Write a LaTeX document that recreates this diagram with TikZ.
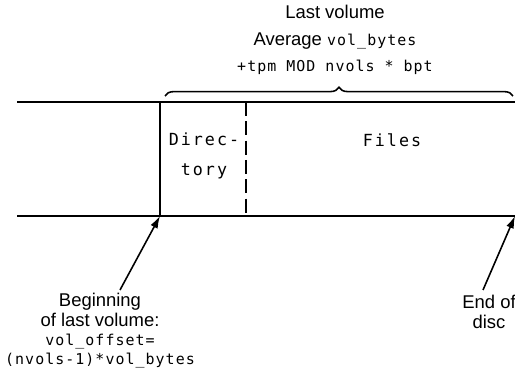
\documentclass[tikz,border=0pt]{standalone}
\usepackage{fontspec}
\setmainfont{Liberation Sans}
\newfontfamily\codefont[LetterSpace=7]{DejaVu Sans Mono}
\usetikzlibrary{arrows.meta,decorations.pathreplacing,positioning}
\newcommand{\code}[1]{{\fontsize{8.5}{11}\codefont #1}}
\newcommand{\boxcode}[1]{{\fontsize{9.5}{11}\codefont\addfontfeature{LetterSpace=12}#1}}

\begin{document}
\begin{tikzpicture}[x=0.02cm,y=-0.02cm,font=\fontsize{10.5}{11}\selectfont,
  rail/.style={line width=1.2pt},
  wall/.style={line width=0.9pt},
  pointer/.style={-{Latex[length=7pt,width=4.5pt]},line width=0.9pt}]
\useasboundingbox (0,0) rectangle (515,368);
% disc rails
\coordinate (tl) at (17,102); \coordinate (tr) at (515,102);
\coordinate (bl) at (17,216); \coordinate (br) at (515,216);
\draw[rail] (tl) -- (tr);
\draw[rail] (bl) -- (br);
% volume start and directory end
\coordinate (vt) at (160,102); \coordinate (vb) at (160,216);
\coordinate (dt) at (246,102); \coordinate (db) at (246,216);
\draw[wall] (vt) -- (vb);
\draw[wall,dash pattern=on 8pt off 3pt] (dt) -- (db);
\node[align=center] (dir) at (204,156) {\boxcode{Direc-}\\[6pt] \boxcode{tory}};
\node (files) at (392,140) {\boxcode{Files}};
% last volume brace
\coordinate (bs) at (165,96); \coordinate (be) at (513,96);
\draw[wall,decorate,decoration={brace,amplitude=5pt}] (bs) -- (be);
\node[align=center] (title) at (335,40)
  {Last volume\\[4pt] Average \code{vol\_bytes}\\[4pt] \code{+tpm MOD nvols * bpt}};
% pointers
\node[align=center,inner sep=0pt] (begin) at (100,331)
  {Beginning\\ of last volume:\\ \code{vol\_offset=}\\ \code{(nvols-1)*vol\_bytes}};
\coordinate (bfoot) at (120,290);
\draw[pointer] (bfoot) -- (vb);
\node[align=center,inner sep=0pt] (end) at (489,312) {End of\\ disc};
\coordinate (efoot) at (483,290);
\draw[pointer] (efoot) -- (br);
\end{tikzpicture}
\end{document}
